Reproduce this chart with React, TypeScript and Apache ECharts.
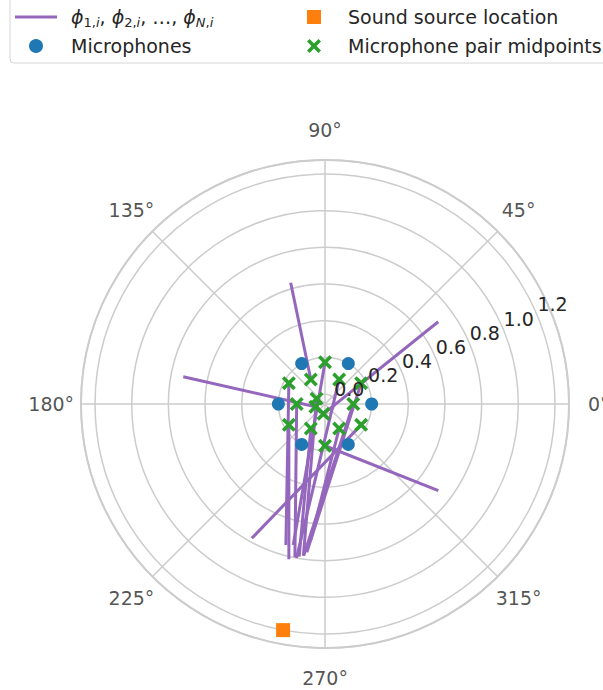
import React, { useEffect, useRef } from 'react';
import * as echarts from 'echarts';

// ---------- names ----------
const PHI_NAME = 'phi';
const MIC_NAME = 'Microphones';
const SRC_NAME = 'Sound source location';
const MID_NAME = 'Microphone pair midpoints';

// ---------- axes ----------
const RADIUS_MIN = -0.0545;
const RADIUS_MAX = 1.2766;
const RADIAL_STEP = 0.2;
const RADIAL_LABEL_ANGLE = 22.5;
const angleTicks = [0, 45, 90, 135, 180, 225, 270, 315];
const ANGLE_LABEL_RATIO = 1.122; // label centre distance / outer radius

// ---------- data (polar: radius, angle in degrees) ----------
const micR = [0.2, 0.2, 0.2, 0.2, 0.2, 0.2];
const micTheta = [0, 60, 120, 180, 240, 300];

const sourceR = [1.2];
const sourceTheta = [259.5];

const midR = [0.1732, 0.1732, 0.1, 0.1, 0.1732, 0.1, 0, 0, 0.1, 0.1732, 0.1, 0, 0.1, 0.1732, 0.1732];
const midTheta = [90, 150, 120, 60, 30, 180, 148, 196, 0, 210, 240, 261, 300, 330, 270];

const phiStartR = [0.1, 0, 0.1732, 0, 0.1732, 0.1732, 0.1732, 0.1, 0.1732, 0.1, 0, 0.1, 0.1, 0.1, 0.1732];
const phiStartTheta = [120, 261, 270, 196, 330, 150, 210, 180, 90, 240, 148, 300, 0, 60, 30];
const phiEndR = [0.633, 0.709, 0.724, 0.733, 0.78, 0.744, 0.815, 0.798, 0.734, 0.79, 0.783, 0.691, 0.78, 0.8, 0.76];
const phiEndTheta = [105.8, 36.0, 322.6, 169.1, 241.4, 254.5, 256.9, 258.9, 257.3, 260.4, 261.9, 264, 262, 259.5, 263];

const COLORS = {
  phi: '#9467bd',
  mic: '#1f77b4',
  src: '#ff7f0e',
  mid: '#2ca02c',
  grid: '#cccccc',
  text: '#262626',
};

const FONT = 'DejaVu Sans';
const X_PATH = 'path://M1.8,0L5,3.2L8.2,0L10,1.8L6.8,5L10,8.2L8.2,10L5,6.8L1.8,10L0,8.2L3.2,5L0,1.8Z';
const SQUARE_PATH = 'path://M0,0L10,0L10,10L0,10Z';
const LINE_PATH = 'path://M0,0L42,0L42,3L0,3Z';

const isStep = (v: number) => Math.abs(v / RADIAL_STEP - Math.round(v / RADIAL_STEP)) < 1e-6;

const phiLegendText =
  '{phi|ϕ}{sub|1,}{subi|i}{n|, }{phi|ϕ}{sub|2,}{subi|i}{n|, …, }{phi|ϕ}{subi|N}{sub|,}{subi|i}';

export default function App() {
  const ref = useRef<HTMLDivElement>(null);
  useEffect(() => {
    if (!ref.current) return;
    const chart = echarts.init(ref.current, undefined, { renderer: 'svg' });

    const lineSeries = phiStartR.map((_, i) => ({
      type: 'line',
      name: PHI_NAME,
      coordinateSystem: 'polar',
      polarIndex: 0,
      data: [
        [phiStartR[i], phiStartTheta[i]],
        [phiEndR[i], phiEndTheta[i]],
      ],
      symbol: 'none',
      showSymbol: false,
      lineStyle: { color: COLORS.phi, width: 3 },
      itemStyle: { color: COLORS.phi },
      z: 2,
      silent: true,
    }));

    const richCommon = { fontFamily: FONT, color: COLORS.text, lineHeight: 24 };
    const angleLabelR = RADIUS_MIN + ANGLE_LABEL_RATIO * (RADIUS_MAX - RADIUS_MIN);

    const option: any = {
      animation: false,
      backgroundColor: '#ffffff',
      textStyle: { fontFamily: FONT },
      polar: [
        { center: [325, 404], radius: 244 },
        { center: [325, 404], radius: 244 },
      ],
      angleAxis: [
        {
          polarIndex: 0,
          type: 'value',
          min: 0,
          max: 360,
          interval: 45,
          startAngle: 0,
          clockwise: false,
          axisLine: { show: true, lineStyle: { color: COLORS.grid, width: 2 } },
          axisTick: { show: false },
          splitLine: { show: true, lineStyle: { color: COLORS.grid, width: 1.5 } },
          axisLabel: { show: false },
        },
        {
          polarIndex: 1,
          type: 'value',
          min: 0,
          max: 360,
          startAngle: RADIAL_LABEL_ANGLE,
          clockwise: false,
          axisLine: { show: false },
          axisTick: { show: false },
          splitLine: { show: false },
          axisLabel: { show: false },
        },
      ],
      radiusAxis: [
        {
          polarIndex: 0,
          type: 'value',
          min: RADIUS_MIN,
          max: RADIUS_MAX,
          minInterval: RADIAL_STEP,
          maxInterval: RADIAL_STEP,
          splitNumber: 6,
          axisLine: { show: false },
          axisTick: { show: false },
          axisLabel: { show: false },
          splitLine: { show: true, lineStyle: { color: COLORS.grid, width: 1.5 } },
        },
        {
          polarIndex: 1,
          type: 'value',
          min: RADIUS_MIN,
          max: RADIUS_MAX,
          minInterval: RADIAL_STEP,
          maxInterval: RADIAL_STEP,
          splitNumber: 6,
          z: 10,
          axisLine: { show: false },
          axisTick: { show: false },
          splitLine: { show: false },
          axisLabel: {
            show: true,
            margin: 0,
            align: 'left',
            verticalAlign: 'bottom',
            padding: [0, 0, 2, 0],
            fontSize: 19,
            fontFamily: FONT,
            color: COLORS.text,
            formatter: (v: number) => (isStep(v) ? (Math.abs(v) < 1e-9 ? 0 : v).toFixed(1) : ''),
          },
        },
      ],
      graphic: [
        {
          type: 'rect',
          z: 0,
          shape: { x: 10, y: -10, width: 640, height: 73, r: 4 },
          style: { fill: 'rgba(255,255,255,0.8)', stroke: '#d6d6d6', lineWidth: 1 },
        },
      ],
      legend: [
        {
          orient: 'vertical',
          left: 10,
          top: 0,
          itemWidth: 42,
          itemHeight: 14,
          itemGap: 5,
          z: 5,
          data: [
            { name: PHI_NAME, icon: LINE_PATH, itemStyle: { color: COLORS.phi } },
            { name: MIC_NAME, icon: 'circle', itemStyle: { color: COLORS.mic, opacity: 1 } },
          ],
          formatter: (name: string) => (name === PHI_NAME ? phiLegendText : name),
          textStyle: {
            fontSize: 19,
            fontFamily: FONT,
            color: COLORS.text,
            lineHeight: 24,
            padding: [0, 0, 0, 9],
            rich: {
              phi: { ...richCommon, fontSize: 19, fontStyle: 'italic' },
              n: { ...richCommon, fontSize: 19 },
              sub: { fontFamily: FONT, color: COLORS.text, fontSize: 13, lineHeight: 14, verticalAlign: 'bottom' },
              subi: { fontFamily: FONT, color: COLORS.text, fontSize: 13, lineHeight: 14, verticalAlign: 'bottom', fontStyle: 'italic' },
            },
          },
        },
        {
          orient: 'vertical',
          left: 302,
          top: 0,
          itemWidth: 42,
          itemHeight: 14,
          itemGap: 5,
          z: 5,
          data: [
            { name: SRC_NAME, icon: SQUARE_PATH, itemStyle: { color: COLORS.src, opacity: 1 } },
            { name: MID_NAME, icon: X_PATH, itemStyle: { color: COLORS.mid, opacity: 1 } },
          ],
          textStyle: {
            fontSize: 19,
            fontFamily: FONT,
            color: COLORS.text,
            lineHeight: 24,
            padding: [0, 0, 0, 8],
          },
        },
      ],
      series: [
        ...lineSeries,
        {
          type: 'scatter',
          name: MIC_NAME,
          coordinateSystem: 'polar',
          polarIndex: 0,
          symbol: 'circle',
          symbolSize: 13,
          itemStyle: { color: COLORS.mic, opacity: 1 },
          data: micR.map((r, i) => [r, micTheta[i]]),
          z: 3,
        },
        {
          type: 'scatter',
          name: SRC_NAME,
          coordinateSystem: 'polar',
          polarIndex: 0,
          symbol: 'rect',
          symbolSize: 14,
          itemStyle: { color: COLORS.src, opacity: 1 },
          data: sourceR.map((r, i) => [r, sourceTheta[i]]),
          z: 3,
        },
        {
          type: 'scatter',
          name: MID_NAME,
          coordinateSystem: 'polar',
          polarIndex: 0,
          symbol: X_PATH,
          symbolSize: 14,
          itemStyle: { color: COLORS.mid, opacity: 1 },
          data: midR.map((r, i) => [r, midTheta[i]]),
          z: 4,
        },
        {
          type: 'scatter',
          name: 'angle-labels',
          coordinateSystem: 'polar',
          polarIndex: 0,
          clip: false,
          silent: true,
          symbol: 'circle',
          symbolSize: 1,
          itemStyle: { color: 'rgba(0,0,0,0)' },
          data: angleTicks.map((a) => [angleLabelR, a]),
          label: {
            show: true,
            position: 'inside',
            align: 'center',
            verticalAlign: 'middle',
            fontSize: 19,
            fontFamily: FONT,
            color: COLORS.text,
            formatter: (p: any) => `${p.value[1]}°`,
          },
          z: 5,
        },
      ],
    };

    chart.setOption(option);
    return () => chart.dispose();
  }, []);

  return (
    <div
      ref={ref}
      style={{ position: 'fixed', left: 0, top: 0, width: 660, height: 690, background: '#fff' }}
    />
  );
}
